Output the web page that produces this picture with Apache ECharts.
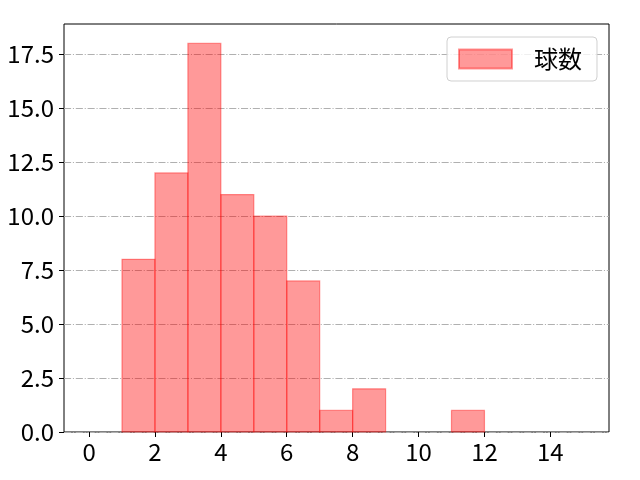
<!DOCTYPE html>
<html>
<head>
<meta charset="utf-8">
<script src="https://cdn.jsdelivr.net/npm/echarts@6/dist/echarts.min.js"></script>
<style>
html,body{margin:0;padding:0;background:#fff;}
#chart{width:640px;height:480px;}
</style>
</head>
<body>
<div id="chart"></div>
<script>
// Histogram bins (width 1) and counts
const binStarts = [0, 1, 2, 3, 4, 5, 6, 7, 8, 9, 10, 11, 12, 13, 14];
const binEnds   = [1, 2, 3, 4, 5, 6, 7, 8, 9, 10, 11, 12, 13, 14, 15];
const counts    = [0, 8, 12, 18, 11, 10, 7, 1, 2, 0, 0, 1, 0, 0, 0];
const xTicks = [0, 2, 4, 6, 8, 10, 12, 14];
const yTicks = [0, 2.5, 5, 7.5, 10, 12.5, 15, 17.5];
const seriesName = '球数';

const FONT = 'Noto Sans CJK JP';
const fill = 'rgba(255,0,0,0.4)';

const data = binStarts.map((s, i) => [s, binEnds[i], counts[i]]);

const chart = echarts.init(document.getElementById('chart'), null, {renderer: 'canvas'});
chart.setOption({
  animation: false,
  backgroundColor: '#fff',
  grid: {
    left: 64, right: 31, top: 24, bottom: 48,
    show: true, borderColor: '#000', borderWidth: 1, backgroundColor: 'transparent'
  },
  legend: {
    data: [{name: seriesName, icon: 'rect'}],
    left: 447, top: 37,
    itemWidth: 53, itemHeight: 19,
    padding: [10, 15, 10, 11],
    borderColor: '#d0d0d0', borderWidth: 1, borderRadius: 4,
    backgroundColor: 'rgba(255,255,255,0.8)',
    textStyle: {fontFamily: FONT, fontSize: 24, color: '#000', padding: [0, 0, 0, 17]}
  },
  xAxis: {
    type: 'value', min: -0.76, max: 15.78,
    axisLine: {show: false, onZero: false},
    splitLine: {show: false},
    axisTick: {show: true, inside: false, length: 5, customValues: xTicks,
      lineStyle: {color: '#000', width: 1}},
    axisLabel: {customValues: xTicks, fontFamily: FONT, fontSize: 24, color: '#000', margin: 8}
  },
  yAxis: {
    type: 'value', min: 0, max: 18.9, interval: 2.5,
    axisLine: {show: false, onZero: false},
    splitLine: {show: true, lineStyle: {color: '#b0b0b0', width: 1, type: [7.1, 1.8, 1.1, 1.8]}},
    axisTick: {show: true, inside: false, length: 5, customValues: yTicks,
      lineStyle: {color: '#000', width: 1}},
    axisLabel: {customValues: yTicks, fontFamily: FONT, fontSize: 24, color: '#000', margin: 10,
      formatter: v => v.toFixed(1)}
  },
  series: [{
    name: seriesName,
    type: 'custom',
    itemStyle: {color: fill, borderColor: fill, borderWidth: 1.2},
    encode: {x: [0, 1], y: 2},
    data: data,
    renderItem: function (params, api) {
      const v = api.value(2);
      if (!v) return null;
      const p0 = api.coord([api.value(0), v]);
      const p1 = api.coord([api.value(1), 0]);
      return {
        type: 'rect',
        shape: {x: p0[0], y: p0[1], width: p1[0] - p0[0], height: p1[1] - p0[1]},
        style: {fill: fill, stroke: fill, lineWidth: 1.2}
      };
    }
  }]
});
</script>
</body>
</html>
